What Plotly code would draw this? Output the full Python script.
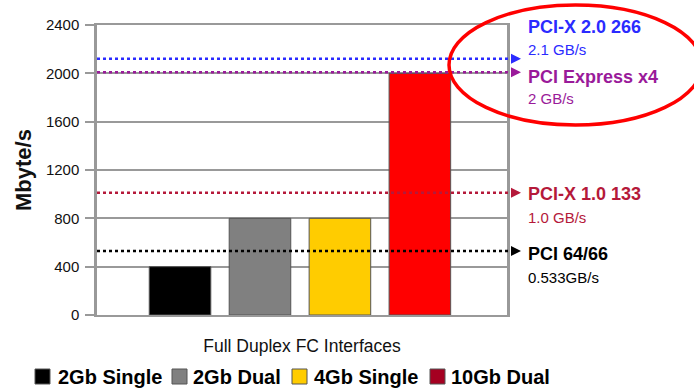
import plotly.graph_objects as go

category = ["Full Duplex FC Interfaces"]
series_names = ["2Gb Single", "2Gb Dual", "4Gb Single", "10Gb Dual"]
series_values = [400, 800, 800, 2000]
bar_colors = ["#000000", "#808080", "#FFCC00", "#FF0000"]
legend_colors = ["#000000", "#808080", "#FFCC00", "#A50021"]

ref_titles = ["PCI-X 2.0 266", "PCI Express x4", "PCI-X 1.0 133", "PCI 64/66"]
ref_subtitles = ["2.1 GB/s", "2 GB/s", "1.0 GB/s", "0.533GB/s"]
ref_values = [2120, 2010, 1012, 530]
ref_colors = ["#2B2BFF", "#9A1A9A", "#B5193A", "#000000"]
ref_label_px = [(27, 50), (77, 99), (194, 217), (254, 277)]  # label pixel y positions
y_ticks = [0, 400, 800, 1200, 1600, 2000, 2400]

FONT = "Liberation Sans, Arial"

W, H = 694, 388
L, R, T, B = 97, 187, 25, 73
PW, PH = W - L - R, H - T - B


def px_x(x):
    return (x - L) / PW


def px_y(y):
    return (H - B - y) / PH


fig = go.Figure()
for name, val, c in zip(series_names, series_values, bar_colors):
    fig.add_trace(go.Bar(x=category, y=[val], name=name,
                         marker=dict(color=c, line=dict(color="#555555", width=1)),
                         showlegend=False))

shapes = []
annotations = []
for title, sub, val, c, (y1, y2) in zip(ref_titles, ref_subtitles, ref_values, ref_colors, ref_label_px):
    shapes.append(dict(type="line", xref="paper", yref="y", x0=0, x1=px_x(514), y0=val, y1=val,
                       line=dict(color=c, width=2.5, dash="dot"), layer="above"))
    annotations.append(dict(xref="paper", yref="y", x=px_x(521), y=val, ax=-8, ay=0, showarrow=True,
                            arrowhead=2, arrowsize=1, arrowwidth=2, arrowcolor=c, text=""))
    annotations.append(dict(xref="paper", yref="paper", x=px_x(526), y=px_y(y1), xanchor="left", yanchor="middle",
                            text="<b>" + title + "</b>", showarrow=False,
                            font=dict(family=FONT, size=18, color=c)))
    annotations.append(dict(xref="paper", yref="paper", x=px_x(526), y=px_y(y2), xanchor="left", yanchor="middle",
                            text=sub, showarrow=False,
                            font=dict(family=FONT, size=15, color=c)))

# highlight ellipse
shapes.append(dict(type="circle", xref="paper", yref="paper", x0=px_x(449), x1=px_x(702),
                   y0=px_y(125), y1=px_y(5), line=dict(color="#FF0000", width=3.5)))

# manual legend (text and colours from the series lists)
legend_sq_px = [35, 172, 292, 430]
legend_txt_px = [56, 191, 312, 449]
for name, c, sx, tx in zip(series_names, legend_colors, legend_sq_px, legend_txt_px):
    shapes.append(dict(type="rect", xref="paper", yref="paper", x0=px_x(sx), x1=px_x(sx + 15),
                       y0=px_y(384), y1=px_y(369), fillcolor=c, line=dict(color="#555555", width=1)))
    annotations.append(dict(xref="paper", yref="paper", x=px_x(tx), y=px_y(377), xanchor="left",
                            yanchor="middle", text="<b>" + name + "</b>", showarrow=False,
                            font=dict(family=FONT, size=20, color="#000000")))

fig.update_layout(
    width=W, height=H,
    margin=dict(l=L, r=R, t=T, b=B, autoexpand=False),
    paper_bgcolor="white", plot_bgcolor="white",
    barmode="group", bargap=0.22, bargroupgap=0.23,
    shapes=shapes, annotations=annotations,
    font=dict(family=FONT, color="#111111"),
    showlegend=False,
)
fig.update_yaxes(range=[0, 2400], tickvals=y_ticks, showgrid=True, gridcolor="#999999", gridwidth=1.5,
                 showline=True, linecolor="#999999", linewidth=2.5, mirror=True,
                 ticks="outside", ticklen=9, tickcolor="#999999", tickwidth=1.5, ticklabelstandoff=3,
                 tickfont=dict(family=FONT, size=15, color="#111111"),
                 title=dict(text="<b>Mbyte/s</b>", font=dict(family=FONT, size=22, color="#111111"),
                            standoff=9))
fig.update_xaxes(range=[-0.495, 0.505], showline=True, linecolor="#999999", linewidth=2, mirror=True,
                 ticks="", showticklabels=False,
                 title=dict(text=category[0], font=dict(family=FONT, size=17.5, color="#111111"), standoff=24))

fig.write_html("out.html", config={"displayModeBar": False},
               post_script="document.body.style.margin='0';document.body.style.overflow='hidden';")
